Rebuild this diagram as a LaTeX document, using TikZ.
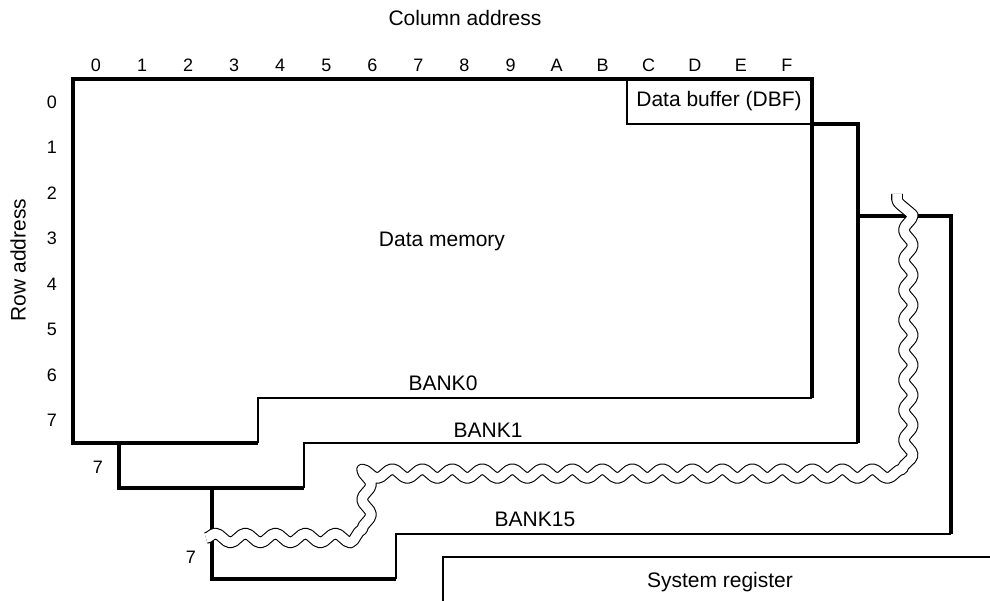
\documentclass[tikz,border=0pt]{standalone}
\usepackage{fontspec}
\setmainfont{Liberation Sans}
\usetikzlibrary{decorations.pathmorphing}

\begin{document}
\begin{tikzpicture}[x=1pt,y=-1pt,
  edge/.style={line width=3.2pt},
  rim/.style={line width=1.2pt},
  brk/.style={decorate,decoration={snake,amplitude=4.5pt,segment length=30pt},
              line width=1.1pt,double=white,double distance=9.5pt,line join=round},
  lbl/.style={font=\fontsize{21}{24}\selectfont,inner sep=0pt},
  idx/.style={font=\fontsize{18}{20}\selectfont,inner sep=0pt}]
  \useasboundingbox (0,0) rectangle (990,601);
  % axis titles and indices
  \node[lbl] (coltitle) at (465,18) {Column address};
  \node[lbl,rotate=90] (rowtitle) at (18,260) {Row address};
  \foreach \c [count=\i from 0] in {0,1,2,3,4,5,6,7,8,9,A,B,C,D,E,F}
    \node[idx] (col\c) at ({96+46.06*\i},65) {\c};
  \foreach \r in {0,...,7}
    \node[idx] (row\r) at (52,{102+45.5*\r}) {\r};
  \node[idx] (last1) at (98,467) {7};
  \node[idx] (last15) at (191,557) {7};
  % bank 0 with the data buffer
  \draw[edge] (258,443) -- (73,443) -- (73,79) -- (812,79) -- (812,398);
  \draw[rim] (812,398) -- (258,398) -- (258,443);
  \draw[rim] (627,79) -- (627,124) -- (812,124);
  \node[lbl] (dbf) at (719,101) {Data buffer (DBF)};
  \node[lbl] (dmem) at (442,241) {Data memory};
  \node[lbl] (bank0) at (443,383) {BANK0};
  % bank 1
  \draw[edge] (812,124) -- (858,124) -- (858,443);
  \draw[rim] (858,443) -- (304,443) -- (304,488);
  \draw[edge] (304,488) -- (119,488) -- (119,443);
  \node[lbl] (bank1) at (488,430) {BANK1};
  % bank 15
  \draw[edge] (858,216) -- (951,216) -- (951,534);
  \draw[rim] (951,534) -- (396,534) -- (396,579);
  \draw[edge] (396,579) -- (212,579) -- (212,488);
  \node[lbl] (bank15) at (535,519) {BANK15};
  % omitted banks
  \draw[brk] (206,538) -- (343,538) .. controls (353,538) .. (353,528)
    -- (353,478) .. controls (353,468) .. (363,468)
    -- (887,468) .. controls (897,468) .. (897,458) -- (897,194);
  % system register
  \draw[rim] (990,557) -- (443,557) -- (443,601);
  \node[lbl] (sysreg) at (720,582) {System register};
\end{tikzpicture}
\end{document}
